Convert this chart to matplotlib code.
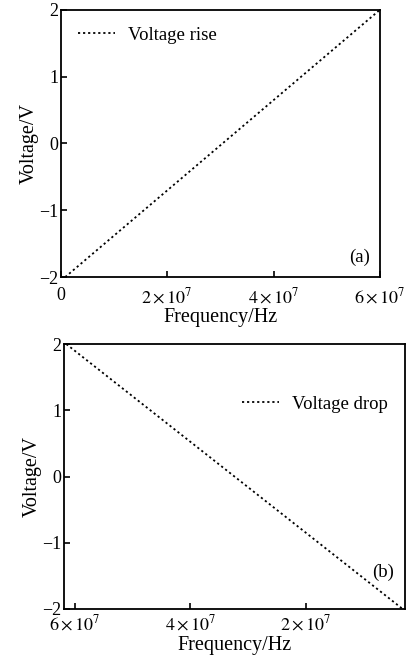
import matplotlib
matplotlib.use("Agg")
import matplotlib.pyplot as plt

plt.rcParams['font.family'] = ['Liberation Serif', 'DejaVu Serif']
plt.rcParams['mathtext.fontset'] = 'stix'

# panel (a): voltage rise
freq_rise = [0.08e7, 6.0e7]
volt_rise = [-2.0, 2.0]
# panel (b): voltage drop
freq_drop = [6.15e7, 0.32e7]
volt_drop = [2.0, -2.0]

xticks_a = [0, 2e7, 4e7, 6e7]
xlabels_a = ['0', r'$2\times10^7$', r'$4\times10^7$', r'$6\times10^7$']
xticks_b = [6e7, 4e7, 2e7]
xlabels_b = [r'$6\times10^7$', r'$4\times10^7$', r'$2\times10^7$']
yticks = [-2, -1, 0, 1, 2]

fig = plt.figure(figsize=(4.08, 6.58), dpi=100)
ax1 = fig.add_axes([0.1495, 0.579, 0.7815, 0.406])
ax2 = fig.add_axes([0.157, 0.0745, 0.8356, 0.4025])


def style(ax, xpad):
    for s in ax.spines.values():
        s.set_linewidth(1.3)
    ax.tick_params(direction='in', length=4, width=1.2, labelsize=13, pad=2)
    ax.tick_params(axis='x', pad=xpad)
    ax.set_yticks(yticks)
    ax.set_yticklabels(['\u22122', '\u22121', '0', '1', '2'])
    ax.set_ylim(-2, 2)
    ax.set_ylabel('Voltage/V', fontsize=14.5, labelpad=0)
    ax.set_xlabel('Frequency/Hz', fontsize=14.5, labelpad=1)


ax1.plot(freq_rise, volt_rise, color='black', linestyle=(0, (1.2, 1.6)), lw=1.3, label='Voltage rise')
ax1.set_xlim(0, 6e7)
ax1.set_xticks(xticks_a)
ax1.set_xticklabels(xlabels_a)
style(ax1, 7)
ax1.legend(loc='upper left', frameon=False, fontsize=13.5, handlelength=2.0, handletextpad=0.7,
           borderaxespad=0.5)
ax1.text(0.937, 0.075, '(a)', transform=ax1.transAxes, ha='center', va='center', fontsize=13.5)

ax2.plot(freq_drop, volt_drop, color='black', linestyle=(0, (1.2, 1.6)), lw=1.3, label='Voltage drop')
ax2.set_xlim(6.19e7, 0.28e7)
ax2.set_xticks(xticks_b)
ax2.set_xticklabels(xlabels_b)
style(ax2, 4)
ax2.legend(loc='upper right', frameon=False, fontsize=13.5, handlelength=2.0, handletextpad=0.7,
           bbox_to_anchor=(1.0, 0.87))
ax2.text(0.935, 0.14, '(b)', transform=ax2.transAxes, ha='center', va='center', fontsize=13.5)

fig.savefig('out.png', dpi=100)
